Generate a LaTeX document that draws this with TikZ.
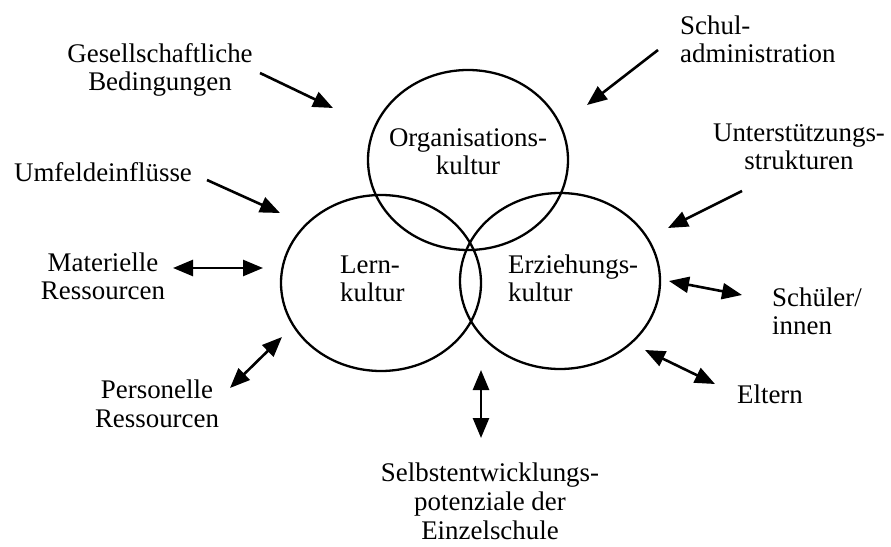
\documentclass[tikz,border=0pt]{standalone}
\usepackage{fontspec}
\setmainfont{Liberation Serif}
\usetikzlibrary{arrows.meta}

\begin{document}
\begin{tikzpicture}[x=1bp, y=-1bp,
    kreis/.style={line width=2.3bp},
    txt/.style={font=\fontsize{27}{29}\selectfont, inner sep=0pt, anchor=base},
    ein/.style={line width=2.6bp, -{Triangle[length=20bp,width=16bp]}},
    beide/.style={line width=2.6bp, {Triangle[length=20bp,width=16bp]}-{Triangle[length=20bp,width=16bp]}}]
  \useasboundingbox (0,0) rectangle (891,547);

  % The three cultures
  \draw[kreis] (468,160) ellipse [x radius=100, y radius=90]; % Organisationskultur
  \draw[kreis] (381,283) ellipse [x radius=100, y radius=88]; % Lernkultur
  \draw[kreis] (560,281) ellipse [x radius=100, y radius=88]; % Erziehungskultur
  \node[txt, align=center] (org) at (468,175) {Organisations-\\kultur};
  \node[txt, align=left, anchor=base west] (lern) at (340,302) {Lern-\\kultur};
  \node[txt, align=left, anchor=base west] (erz) at (508,302) {Erziehungs-\\kultur};

  % Labels round the circles (base = last line)
  \node[txt, align=center] (ges) at (160,91) {Gesellschaftliche\\Bedingungen};
  \node[txt, align=left, anchor=base west] (schul) at (680,63) {Schul-\\administration};
  \node[txt, align=center] (unt) at (799,170) {Unterstützungs-\\strukturen};
  \node[txt] (umf) at (103,182) {Umfeldeinflüsse};
  \node[txt, align=center] (mat) at (103,300) {Materielle\\Ressourcen};
  \node[txt, align=center] (pers) at (157,427) {Personelle\\Ressourcen};
  \node[txt, align=left, anchor=base west] (schueler) at (772,335) {Schüler/\\innen};
  \node[txt] (eltern) at (770,403) {Eltern};
  \node[txt, align=center] (selbst) at (490,539) {Selbstentwicklungs-\\potenziale der\\Einzelschule};

  % Arrow ends
  \coordinate (ges1) at (260,73);   \coordinate (ges2) at (333,108);
  \coordinate (schul1) at (658,50); \coordinate (schul2) at (587,105);
  \coordinate (unt1) at (742,191);  \coordinate (unt2) at (668,228);
  \coordinate (umf1) at (207,180);  \coordinate (umf2) at (280,213);
  \coordinate (mat1) at (173,268);  \coordinate (mat2) at (263,268);
  \coordinate (pers1) at (230,388); \coordinate (pers2) at (282,337);
  \coordinate (sch1) at (669,281);  \coordinate (sch2) at (742,295);
  \coordinate (elt1) at (645,350);  \coordinate (elt2) at (715,384);
  \coordinate (selb1) at (481,370); \coordinate (selb2) at (481,438);

  % Influences (one way)
  \foreach \a/\b in {ges1/ges2, schul1/schul2, unt1/unt2, umf1/umf2}
    \draw[ein] (\a) -- (\b);
  % Exchange (both ways)
  \foreach \a/\b in {mat1/mat2, pers1/pers2, sch1/sch2, elt1/elt2, selb1/selb2}
    \draw[beide] (\a) -- (\b);
\end{tikzpicture}
\end{document}
